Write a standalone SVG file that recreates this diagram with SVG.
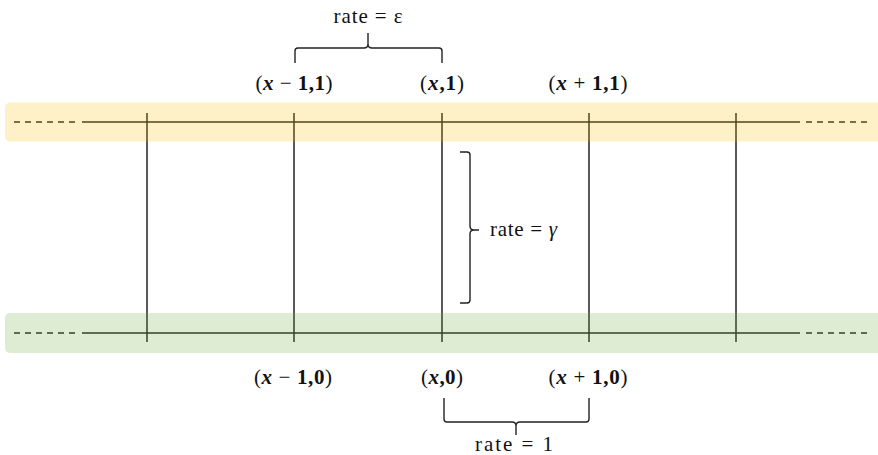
<svg xmlns="http://www.w3.org/2000/svg" width="878" height="455" viewBox="0 0 878 455">
<style>
.ln{stroke:#222;stroke-width:1.5;fill:none}
.dash{stroke:#222;stroke-width:1.5;fill:none;stroke-dasharray:6 5}
.br{stroke:#222;stroke-width:1.4;fill:none}
.lbl{font-family:"Liberation Serif","DejaVu Serif",serif;font-size:21px;fill:#111}
.b{font-weight:bold}
.bi{font-weight:bold;font-style:italic}
.rate{font-family:"Liberation Serif","DejaVu Serif",serif;font-size:21px;fill:#111}
</style>
<rect width="878" height="455" fill="#fff"/>
<g id="connectors">
<line class="ln" x1="147" y1="113" x2="147" y2="342"/>
<line class="ln" x1="294" y1="113" x2="294" y2="342"/>
<line class="ln" x1="442" y1="113" x2="442" y2="342"/>
<line class="ln" x1="589" y1="113" x2="589" y2="342"/>
<line class="ln" x1="736" y1="113" x2="736" y2="342"/>
<line class="ln" x1="82" y1="122" x2="800" y2="122"/>
<line class="dash" x1="14" y1="122" x2="80" y2="122"/>
<line class="dash" x1="806" y1="122" x2="870" y2="122"/>
<line class="ln" x1="82" y1="333" x2="800" y2="333"/>
<line class="dash" x1="14" y1="333" x2="80" y2="333"/>
<line class="dash" x1="806" y1="333" x2="870" y2="333"/>
</g>
<g id="band-top"><rect x="5" y="102.5" width="880" height="39" rx="5" fill="#ffc000" fill-opacity="0.22"/></g>
<g id="band-bottom"><rect x="5" y="313" width="880" height="40" rx="5" fill="#70ad47" fill-opacity="0.23"/></g>
<g id="brace-top">
<path class="br" d="M295,63 L295,51 Q295,48 298,48 L364,48 Q368,48 368,44 L368,33 M368,44 Q368,48 372,48 L439,48 Q442,48 442,51 L442,63"/>
<text class="rate" x="368" y="23" text-anchor="middle" textLength="69" lengthAdjust="spacing">rate = ε</text>
</g>
<g id="brace-right">
<path class="br" d="M460,152 L467,152 Q470,152 470,155 L470,226 Q470,230 474,230 L479,230 M474,230 Q470,230 470,234 L470,300 Q470,303 467,303 L460,303"/>
<text class="rate" x="490" y="236" textLength="67" lengthAdjust="spacing">rate = <tspan font-style="italic">γ</tspan></text>
</g>
<g id="brace-bottom">
<path class="br" d="M444,398 L444,419 Q444,422 447,422 L512,422 Q516,422 516,426 L516,435 M516,426 Q516,422 520,422 L586,422 Q589,422 589,419 L589,398"/>
<text class="rate" x="514" y="451" text-anchor="middle" textLength="78" lengthAdjust="spacing">rate = 1</text>
</g>
<g id="node-xm1-1"><text class="lbl" x="294" y="90" text-anchor="middle" textLength="77" lengthAdjust="spacing">(<tspan class="bi">x</tspan> − <tspan class="b">1</tspan><tspan class="b">,</tspan><tspan class="b">1</tspan>)</text></g>
<g id="node-x-1"><text class="lbl" x="442" y="90" text-anchor="middle" textLength="44" lengthAdjust="spacing">(<tspan class="bi">x</tspan><tspan class="b">,</tspan><tspan class="b">1</tspan>)</text></g>
<g id="node-xp1-1"><text class="lbl" x="588" y="90" text-anchor="middle" textLength="79" lengthAdjust="spacing">(<tspan class="bi">x</tspan> + <tspan class="b">1</tspan><tspan class="b">,</tspan><tspan class="b">1</tspan>)</text></g>
<g id="node-xm1-0"><text class="lbl" x="293" y="384" text-anchor="middle" textLength="78" lengthAdjust="spacing">(<tspan class="bi">x</tspan> − <tspan class="b">1</tspan><tspan class="b">,</tspan><tspan class="b">0</tspan>)</text></g>
<g id="node-x-0"><text class="lbl" x="442" y="384" text-anchor="middle" textLength="42" lengthAdjust="spacing">(<tspan class="bi">x</tspan><tspan class="b">,</tspan><tspan class="b">0</tspan>)</text></g>
<g id="node-xp1-0"><text class="lbl" x="588" y="384" text-anchor="middle" textLength="79" lengthAdjust="spacing">(<tspan class="bi">x</tspan> + <tspan class="b">1</tspan><tspan class="b">,</tspan><tspan class="b">0</tspan>)</text></g>
</svg>
